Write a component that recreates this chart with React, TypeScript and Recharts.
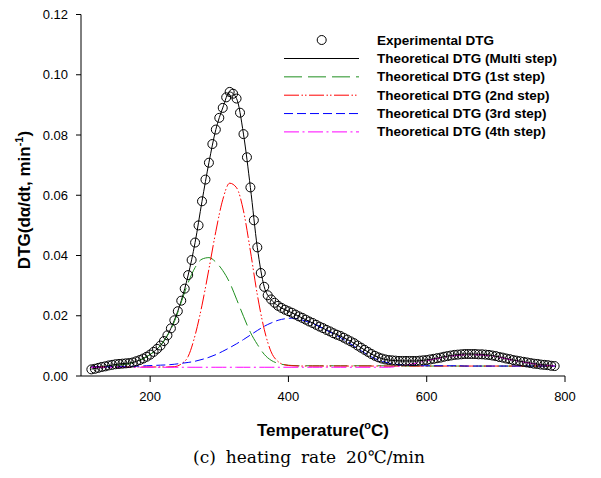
import { ComposedChart, Line, Scatter, XAxis, YAxis } from "recharts"

const sans = "'Liberation Sans', Arial, Helvetica, sans-serif"
const serif = "'DejaVu Serif', 'Liberation Serif', serif"

// experimental DTG, read every 5 °C
const expTemp = [
  115, 120, 125, 130, 135, 140, 145, 150, 155, 160,
  165, 170, 175, 180, 185, 190, 195, 200, 205, 210,
  215, 220, 225, 230, 235, 240, 245, 250, 255, 260,
  265, 270, 275, 280, 285, 290, 295, 300, 305, 310,
  315, 320, 325, 330, 335, 340, 345, 350, 355, 360,
  365, 370, 375, 380, 385, 390, 395, 400, 405, 410,
  415, 420, 425, 430, 435, 440, 445, 450, 455, 460,
  465, 470, 475, 480, 485, 490, 495, 500, 505, 510,
  515, 520, 525, 530, 535, 540, 545, 550, 555, 560,
  565, 570, 575, 580, 585, 590, 595, 600, 605, 610,
  615, 620, 625, 630, 635, 640, 645, 650, 655, 660,
  665, 670, 675, 680, 685, 690, 695, 700, 705, 710,
  715, 720, 725, 730, 735, 740, 745, 750, 755, 760,
  765, 770, 775, 780, 785,
]
const expDTG = [
  0.0022, 0.0024, 0.0027, 0.0030, 0.0032, 0.0035, 0.0037, 0.0039, 0.0040, 0.0041,
  0.0042, 0.0043, 0.0045, 0.0049, 0.0053, 0.0058, 0.0064, 0.0071, 0.0080, 0.0090,
  0.0101, 0.0116, 0.0135, 0.0158, 0.0185, 0.0215, 0.0250, 0.0290, 0.0335, 0.0385,
  0.0443, 0.0500, 0.0580, 0.0652, 0.0708, 0.0770, 0.0818, 0.0857, 0.0890, 0.0925,
  0.0943, 0.0937, 0.0921, 0.0874, 0.0803, 0.0726, 0.0626, 0.0517, 0.0427, 0.0342,
  0.0296, 0.0268, 0.0254, 0.0243, 0.0233, 0.0226, 0.0220, 0.0215, 0.0210, 0.0204,
  0.0198, 0.0193, 0.0187, 0.0181, 0.0176, 0.0170, 0.0164, 0.0159, 0.0153, 0.0148,
  0.0142, 0.0137, 0.0133, 0.0127, 0.0121, 0.0115, 0.0109, 0.0101, 0.0094, 0.0087,
  0.0080, 0.0073, 0.0067, 0.0062, 0.0058, 0.0055, 0.0053, 0.0052, 0.0051, 0.0050,
  0.0050, 0.0050, 0.0050, 0.0050, 0.0050, 0.0051, 0.0052, 0.0053, 0.0055, 0.0057,
  0.0059, 0.0061, 0.0064, 0.0066, 0.0068, 0.0070, 0.0071, 0.0072, 0.0073, 0.0073,
  0.0073, 0.0073, 0.0072, 0.0072, 0.0071, 0.0070, 0.0068, 0.0066, 0.0063, 0.0061,
  0.0058, 0.0056, 0.0053, 0.0051, 0.0049, 0.0047, 0.0045, 0.0043, 0.0041, 0.0040,
  0.0038, 0.0037, 0.0036, 0.0034, 0.0033,
]

// theoretical curves, read every 10 °C
const fitTemp = [
  115, 125, 135, 145, 155, 165, 175, 185, 195, 205,
  215, 225, 235, 245, 255, 265, 275, 285, 295, 305,
  315, 325, 335, 345, 355, 365, 375, 385, 395, 405,
  415, 425, 435, 445, 455, 465, 475, 485, 495, 505,
  515, 525, 535, 545, 555, 565, 575, 585, 595, 605,
  615, 625, 635, 645, 655, 665, 675, 685, 695, 705,
  715, 725, 735, 745, 755, 765, 775, 785,
]
const multiStep = [
  0.0023, 0.0027, 0.0032, 0.0036, 0.0040, 0.0042, 0.0045, 0.0053, 0.0064, 0.0080,
  0.0101, 0.0135, 0.0185, 0.0250, 0.0335, 0.0443, 0.0580, 0.0708, 0.0818, 0.0890,
  0.0943, 0.0921, 0.0803, 0.0626, 0.0427, 0.0296, 0.0254, 0.0233, 0.0220, 0.0210,
  0.0198, 0.0187, 0.0176, 0.0164, 0.0153, 0.0142, 0.0133, 0.0121, 0.0109, 0.0094,
  0.0080, 0.0067, 0.0058, 0.0053, 0.0051, 0.0050, 0.0050, 0.0050, 0.0052, 0.0055,
  0.0059, 0.0064, 0.0068, 0.0071, 0.0073, 0.0073, 0.0072, 0.0071, 0.0068, 0.0063,
  0.0058, 0.0053, 0.0049, 0.0045, 0.0041, 0.0038, 0.0036, 0.0033,
]
const step1 = [
  0.0030, 0.0031, 0.0032, 0.0034, 0.0036, 0.0039, 0.0044, 0.0052, 0.0064, 0.0080,
  0.0102, 0.0135, 0.0180, 0.0245, 0.0310, 0.0360, 0.0388, 0.0393, 0.0378, 0.0350,
  0.0310, 0.0255, 0.0198, 0.0145, 0.0105, 0.0072, 0.0052, 0.0042, 0.0037, 0.0035,
  0.0034, 0.0034, 0.0034, 0.0034, 0.0034, 0.0034, 0.0034, 0.0034, 0.0034, 0.0034,
  0.0034, 0.0034, 0.0034, 0.0033, 0.0033, 0.0033, 0.0033, 0.0033, 0.0033, 0.0033,
  0.0033, 0.0033, 0.0033, 0.0033, 0.0033, 0.0033, 0.0033, 0.0033, 0.0033, 0.0033,
  0.0033, 0.0033, 0.0033, 0.0033, 0.0033, 0.0033, 0.0033, 0.0033,
]
const step2 = [
  0.0030, 0.0030, 0.0030, 0.0030, 0.0030, 0.0030, 0.0030, 0.0030, 0.0030, 0.0030,
  0.0030, 0.0030, 0.0031, 0.0040, 0.0065, 0.0135, 0.0235, 0.0355, 0.0480, 0.0585,
  0.0640, 0.0625, 0.0548, 0.0415, 0.0270, 0.0155, 0.0080, 0.0048, 0.0037, 0.0034,
  0.0033, 0.0033, 0.0033, 0.0033, 0.0033, 0.0033, 0.0033, 0.0033, 0.0033, 0.0033,
  0.0033, 0.0033, 0.0033, 0.0033, 0.0033, 0.0033, 0.0033, 0.0033, 0.0033, 0.0033,
  0.0033, 0.0033, 0.0033, 0.0033, 0.0033, 0.0033, 0.0033, 0.0033, 0.0033, 0.0033,
  0.0033, 0.0033, 0.0033, 0.0033, 0.0033, 0.0033, 0.0033, 0.0033,
]
const step3 = [
  0.0030, 0.0030, 0.0030, 0.0031, 0.0031, 0.0032, 0.0032, 0.0033, 0.0034, 0.0035,
  0.0036, 0.0037, 0.0039, 0.0042, 0.0045, 0.0049, 0.0055, 0.0062, 0.0071, 0.0082,
  0.0094, 0.0107, 0.0121, 0.0136, 0.0151, 0.0165, 0.0176, 0.0185, 0.0190, 0.0192,
  0.0189, 0.0182, 0.0174, 0.0164, 0.0152, 0.0140, 0.0128, 0.0114, 0.0099, 0.0084,
  0.0070, 0.0058, 0.0049, 0.0043, 0.0039, 0.0037, 0.0036, 0.0035, 0.0034, 0.0034,
  0.0034, 0.0034, 0.0034, 0.0034, 0.0033, 0.0033, 0.0033, 0.0033, 0.0033, 0.0033,
  0.0033, 0.0033, 0.0033, 0.0033, 0.0033, 0.0033, 0.0033, 0.0033,
]
const step4 = [
  0.0029, 0.0029, 0.0029, 0.0029, 0.0029, 0.0029, 0.0029, 0.0029, 0.0029, 0.0029,
  0.0029, 0.0029, 0.0029, 0.0029, 0.0029, 0.0029, 0.0029, 0.0029, 0.0029, 0.0029,
  0.0029, 0.0029, 0.0029, 0.0029, 0.0029, 0.0029, 0.0029, 0.0029, 0.0029, 0.0029,
  0.0029, 0.0029, 0.0029, 0.0029, 0.0029, 0.0029, 0.0029, 0.0029, 0.0029, 0.0029,
  0.0029, 0.0029, 0.0029, 0.0029, 0.0031, 0.0034, 0.0038, 0.0043, 0.0048, 0.0053,
  0.0058, 0.0062, 0.0066, 0.0068, 0.0070, 0.0070, 0.0070, 0.0068, 0.0066, 0.0062,
  0.0057, 0.0052, 0.0048, 0.0044, 0.0040, 0.0037, 0.0035, 0.0033,
]

const xTicks = [200, 400, 600, 800]
const yTicks = [0, 0.02, 0.04, 0.06, 0.08, 0.1, 0.12]

const expData = expTemp.map((t, i) => ({ t, v: expDTG[i] }))
const fitData = fitTemp.map((t, i) => ({
  t,
  multi: multiStep[i],
  s1: step1[i],
  s2: step2[i],
  s3: step3[i],
  s4: step4[i],
}))

const series = [
  { key: "multi", name: "Theoretical DTG (Multi step)", color: "#000000", dash: undefined },
  { key: "s1", name: "Theoretical DTG (1st step)", color: "#1f8f1f", dash: "18 6" },
  { key: "s2", name: "Theoretical DTG (2nd step)", color: "#ff0000", dash: "15 2.5 1.5 2 1.5 2.5" },
  { key: "s3", name: "Theoretical DTG (3rd step)", color: "#0000ff", dash: "9 4" },
  { key: "s4", name: "Theoretical DTG (4th step)", color: "#ff00ff", dash: "15 3.5 2 3.5" },
]

const Ring = (p: any) => <circle cx={p.cx} cy={p.cy} r={4.5} fill="none" stroke="#000" strokeWidth={1} />

export default function App() {
  return (
    <div style={{ position: "absolute", left: 0, top: 0, width: 601, height: 478, background: "#fff" }}>
      <ComposedChart width={601} height={478} margin={{ top: 14.5, right: 36, bottom: 72, left: 21 }}>
        <XAxis
          type="number"
          dataKey="t"
          domain={[100, 800]}
          ticks={xTicks}
          allowDataOverflow
          height={30}
          tickSize={6}
          tickMargin={10}
          stroke="#000"
          tick={{ fill: "#000", fontSize: 13, fontFamily: sans }}
        />
        <XAxis xAxisId="top" orientation="top" type="number" domain={[100, 800]} height={0} tick={false} tickLine={false} stroke="#000" />
        <YAxis
          type="number"
          domain={[0, 0.12]}
          ticks={yTicks}
          allowDataOverflow
          width={60}
          tickSize={5}
          tickMargin={8}
          stroke="#000"
          tickFormatter={(v: number) => v.toFixed(2)}
          tick={{ fill: "#000", fontSize: 13, fontFamily: sans }}
        />
        <YAxis yAxisId="right" orientation="right" type="number" domain={[0, 0.12]} width={0} tick={false} tickLine={false} stroke="#000" />
        <Scatter name="Experimental DTG" data={expData} dataKey="v" shape={Ring} isAnimationActive={false} />
        {series.map((s) => (
          <Line
            key={s.key}
            name={s.name}
            data={fitData}
            dataKey={s.key}
            type="monotone"
            stroke={s.color}
            strokeWidth={1}
            strokeDasharray={s.dash}
            dot={false}
            activeDot={false}
            isAnimationActive={false}
          />
        ))}
      </ComposedChart>

      <svg width={601} height={478} style={{ position: "absolute", left: 0, top: 0, pointerEvents: "none" }}>
        {/* legend */}
        <circle cx={321.7} cy={40} r={4.5} fill="none" stroke="#000" />
        <text x={377} y={40} dominantBaseline="central" fontFamily={sans} fontWeight="bold" fontSize={13.5}>
          Experimental DTG
        </text>
        {series.map((s, i) => {
          const y = 58.5 + i * 18.35
          return (
            <g key={s.key}>
              <line x1={284} x2={359} y1={y} y2={y} stroke={s.color} strokeWidth={1} strokeDasharray={s.dash} />
              <text x={377} y={y} dominantBaseline="central" fontFamily={sans} fontWeight="bold" fontSize={13.5}>
                {s.name}
              </text>
            </g>
          )
        })}

        {/* axis titles */}
        <text transform="translate(30,200) rotate(-90)" textAnchor="middle" fontFamily={sans} fontWeight="bold" fontSize={17}>
          DTG(dα/dt, min<tspan dy={-7} fontSize={11}>-1</tspan>
          <tspan dy={7}>)</tspan>
        </text>
        <text x={323} y={436} textAnchor="middle" fontFamily={sans} fontWeight="bold" fontSize={17}>
          Temperature(<tspan dy={-7} fontSize={11}>o</tspan>
          <tspan dy={7}>C)</tspan>
        </text>

        {/* caption */}
        <text x={309} y={463} textAnchor="middle" fontFamily={serif} fontSize={17} style={{ wordSpacing: "4.5px" }}>
          (c) heating rate 20℃/min
        </text>
      </svg>
    </div>
  )
}
